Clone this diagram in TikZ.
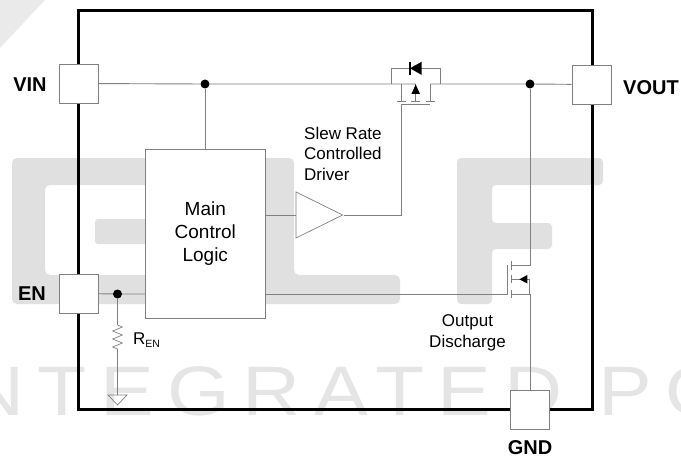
\documentclass[tikz,border=0pt]{standalone}
\usepackage{fontspec}
\setmainfont{Liberation Sans}
\newfontfamily\wmfont[LetterSpace=19,FakeStretch=1.15]{Liberation Sans}
\usetikzlibrary{calc,positioning,shapes.geometric,decorations.pathmorphing}
\definecolor{wirecol}{gray}{0.5}
\definecolor{markcol}{gray}{0.88}
\tikzset{
    >=stealth,
    wire/.style={draw=wirecol, line width=0.9pt},
    pinbox/.style={
        rectangle,
        draw=wirecol, fill=white, line width=0.9pt,
        minimum width=39pt,
        minimum height=39pt,
        inner sep=0pt
    },
    logicbox/.style={
        rectangle,
        draw=wirecol, fill=white, line width=0.9pt,
        minimum width=119.5pt,
        minimum height=169pt,
        align=center,
        font={\fontsize{19}{23}\selectfont}
    },
    driver/.style={
        isosceles triangle,
        isosceles triangle stretches,
        draw=wirecol, fill=white, line width=0.7pt,
        minimum width=46pt,
        minimum height=46.5pt,
        inner sep=0pt,
        anchor=apex
    },
    jct/.style={circle, fill=black, minimum size=9pt, inner sep=0pt},
    pinlabel/.style={font={\fontsize{20}{24}\selectfont\bfseries}},
    caption/.style={align=center, font={\fontsize{17}{20.7}\selectfont}},
    tip/.style={fill=black},
}

\begin{document}
\begin{tikzpicture}[x=1pt, y=-1pt]
\useasboundingbox (0,0) rectangle (681,460);

% watermark
\begin{scope}
\clip (0,0) rectangle (681,460);
\fill [markcol!70!white] (0,0) -- (45,0) -- (0,48) -- cycle;
\fill [markcol, rounded corners=5pt, even odd rule]
  (12,158) -- (294,158) -- (294,275) -- (400,275) -- (400,304) -- (12,304) -- cycle
  (45,185) -- (220,185) -- (220,275) -- (45,275) -- cycle;
\fill [markcol, rounded corners=3pt] (95,219) rectangle (180,244);
\fill [markcol, rounded corners=4pt]
  (457,158) -- (603,158) -- (603,185) -- (492,185) -- (492,223) -- (552,223)
  -- (552,249) -- (492,249) -- (492,304) -- (457,304) -- cycle;
\node [anchor=base west, inner sep=0pt, text=markcol!85!white, font={\fontsize{70}{70}\wmfont}]
  (brand) at (-34,415) {NTEGRATED PO};
\end{scope}

\node [rectangle, draw=black, line width=3pt, minimum width=514pt, minimum height=398pt,
  inner sep=0pt] (chip) at (335,210) {};

\node [pinbox] (vin) at (78.5,83.5) {};
\node [pinbox] (vout) at (591.5,84.5) {};
\node [pinbox] (en) at (78.5,293.5) {};
\node [pinbox] (gnd) at (529.5,409.5) {};

\node [pinlabel] (vinlabel) at (30,85) {VIN};
\node [pinlabel] (voutlabel) at (651,88) {VOUT};
\node [pinlabel] (enlabel) at (32,294) {EN};
\node [pinlabel] (gndlabel) at (530,448) {GND};

\node [logicbox] (logic) at (205.3,233.5) {Main\\Control\\Logic};
\node [driver] (amp) at (343.5,215) {};

\node [jct] (jvin) at (205,84) {};
\node [jct] (jvout) at (530,84) {};
\node [jct] (jen) at (117.5,294) {};

\node [caption, align=left, anchor=north west, inner sep=0pt] (slew) at (304,126.5)
  {Slew Rate\\Controlled\\Driver};
\node [caption] (discharge) at (467.5,332.5) {Output\\Discharge};
\node [anchor=base west, inner sep=0pt, font={\fontsize{17}{20}\selectfont}] (ren) at (133,344)
  {R\raisebox{-3pt}{\fontsize{10.5}{12}\selectfont EN}};

% pass device
\coordinate (qa) at (401,84);
\coordinate (qb) at (430,84);
\coordinate (qc) at (415.7,84);
\coordinate (qg) at (401,104.5);
\coordinate (loopa) at (391.7,84);
\coordinate (loopb) at (440.7,84);
\coordinate (diode) at (416,68.3);

\draw [wire] (vin) -- (jvin) -- (qc);
\draw [wire] (qb) -- (jvout) -- (vout);
\draw [wire] (jvin) -- (logic.north -| jvin);
\draw [wire] (loopa) -- ($(loopa |- diode)$) -- ($(loopb |- diode)$) -- (loopb);
\draw [wire] (qa) -- ++(0,17.7);
\draw [wire] (qb) -- ++(0,17.7);
\draw [wire] (qc) -- ++(0,17.7);
\foreach \x in {401,415.7,430}
  \draw [wire] (\x-4.5,101.7) -- (\x+4.5,101.7);
\draw [wire] (qg) -- ($(qb |- qg)$);
\draw [wire] (amp.apex) -| (qg);
\draw [wire] (logic.east |- amp.apex) -- (amp.lower side);
\fill [tip] (415.7,84.5) -- (420,94) -- (411.4,94) -- cycle;
\fill [tip] (410,68.3) -- (421.7,61.7) -- (421.7,75) -- cycle;
\draw [line width=1.2pt] (410,61.7) -- (410,75);

% discharge device
\coordinate (da) at (511,265);
\coordinate (db) at (511,279.3);
\coordinate (dc) at (511,294);
\coordinate (dg) at (507.7,294);

\draw [wire] (jvout) |- (da);
\draw [wire] (db) -- (530,279.3);
\draw [wire] (dc) -- (530,294) -- (gnd.north -| jvout);
\draw [wire] (529.6,279.3) -- (529.6,294);
\foreach \ya/\yb in {261/270, 275/283.3, 290/298.3}
  \draw [wire] (511,\ya) -- (511,\yb);
\draw [wire] (507.7,265) -- (dg);
\draw [wire] (logic.east |- dg) -- (dg);
\fill [tip] (519.3,279.3) -- (527.3,275) -- (527.3,283.5) -- cycle;

% enable input
\coordinate (rtop) at (117.5,325);
\coordinate (rbot) at (117.5,350);
\coordinate (earth) at (117.5,395);

\draw [wire] (en) -- (jen) -- (logic.west |- jen);
\draw [wire] (jen) -- (rtop);
\draw [wire, line width=0.7pt, decorate,
  decoration={zigzag, segment length=8pt, amplitude=4.8pt}] (rtop) -- (rbot);
\draw [wire] (rbot) -- (earth);
\draw [wire, line width=0.7pt] (108,395) -- (127,395) -- (117.5,405) -- cycle;

\end{tikzpicture}
\end{document}
